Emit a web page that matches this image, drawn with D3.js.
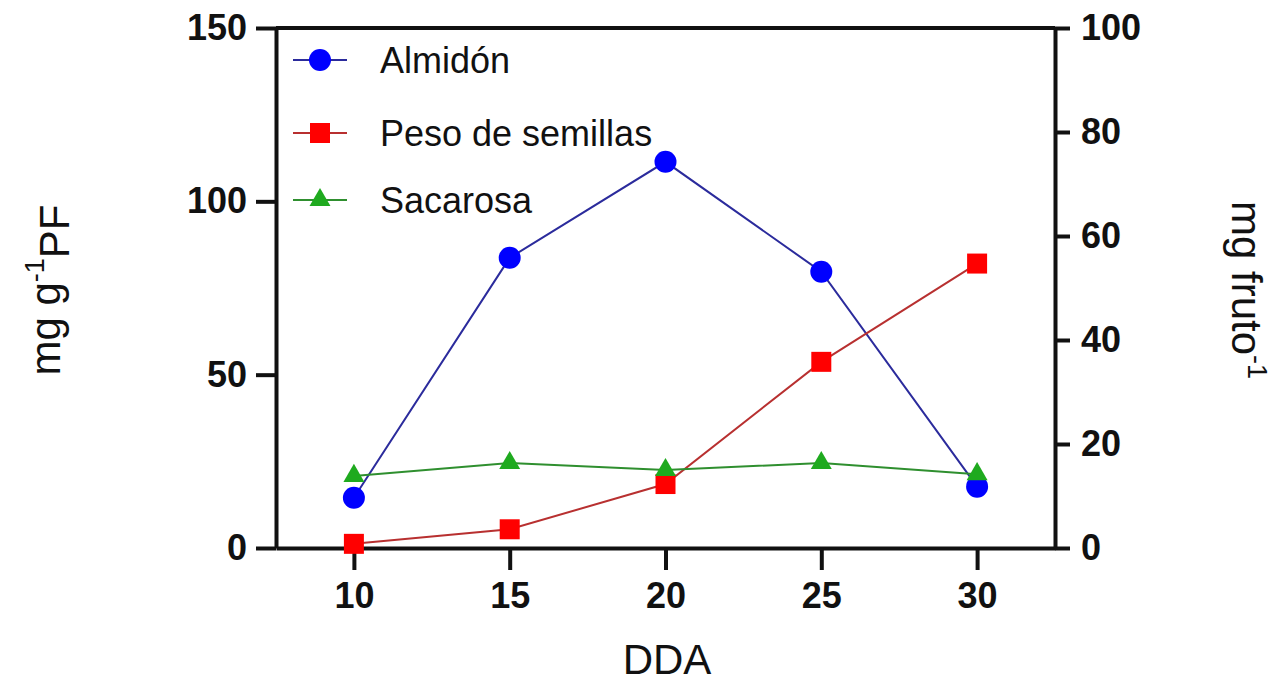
<!DOCTYPE html>
<html>
<head>
<meta charset="utf-8">
<script src="https://cdn.jsdelivr.net/npm/d3@7"></script>
<style>
  body { margin: 0; background: #fff; }
  text { font-family: Arial, "Liberation Sans", sans-serif; fill: #111; }
</style>
</head>
<body>
<script>
var dda = [10, 15, 20, 25, 30];
var almidon = [14.5, 83.7, 111.4, 79.7, 17.7];   // left axis
var peso = [0.8, 3.6, 12.3, 35.8, 54.7];         // right axis
var sacarosa = [20.8, 24.5, 22.5, 24.5, 21.3];   // left axis
var xTicks = [10, 15, 20, 25, 30];
var leftTicks = [0, 50, 100, 150];
var rightTicks = [0, 20, 40, 60, 80, 100];

var w = 1282, h = 683;
var svg = d3.select("body").append("svg").attr("width", w).attr("height", h);

var x = d3.scaleLinear().domain([7.5, 32.5]).range([276, 1055]);
var yL = d3.scaleLinear().domain([0, 150]).range([548, 28]);
var yR = d3.scaleLinear().domain([0, 100]).range([548, 28]);

function styleAxis(g) {
    g.selectAll("path, line").attr("stroke", "#111").attr("stroke-width", 4);
    g.selectAll("text").style("font-size", "36px").style("font-weight", "bold").attr("fill", "#111");
}

// top border
svg.append("line")
    .attr("x1", 276).attr("x2", 1055).attr("y1", 28).attr("y2", 28)
    .attr("stroke", "#111").attr("stroke-width", 4);

svg.append("g").attr("transform", "translate(0,548)")
    .call(d3.axisBottom(x).tickValues(xTicks).tickSize(22).tickPadding(12).tickSizeOuter(0))
    .call(styleAxis);

svg.append("g").attr("transform", "translate(276,0)")
    .call(d3.axisLeft(yL).tickValues(leftTicks).tickSize(20).tickPadding(9).tickSizeOuter(0))
    .call(styleAxis);

svg.append("g").attr("transform", "translate(1055,0)")
    .call(d3.axisRight(yR).tickValues(rightTicks).tickSize(15).tickPadding(11).tickSizeOuter(0))
    .call(styleAxis);

var series = [
    { name: "Almidón", values: almidon, y: yL, line: "#2b2b9c", fill: "#0000ff", shape: d3.symbolCircle, size: 380 },
    { name: "Peso de semillas", values: peso, y: yR, line: "#b83030", fill: "#ff0000", shape: d3.symbolSquare, size: 400 },
    { name: "Sacarosa", values: sacarosa, y: yL, line: "#2f8f2f", fill: "#1faa1f", shape: d3.symbolTriangle, size: 190 }
];

series.forEach(function(s) {
    var line = d3.line().x((d, i) => x(dda[i])).y(d => s.y(d));
    svg.append("path").datum(s.values)
        .attr("d", line).attr("fill", "none")
        .attr("stroke", s.line).attr("stroke-width", 2);
    svg.selectAll(null).data(s.values).enter().append("path")
        .attr("d", d3.symbol().type(s.shape).size(s.size)())
        .attr("transform", (d, i) => "translate(" + x(dda[i]) + "," + s.y(d) + ")")
        .attr("fill", s.fill);
});

// legend
var legY = [60, 133, 200];
series.forEach(function(s, i) {
    var g = svg.append("g").attr("transform", "translate(0," + legY[i] + ")");
    g.append("line").attr("x1", 293).attr("x2", 347)
        .attr("stroke", s.line).attr("stroke-width", 2);
    g.append("path").attr("d", d3.symbol().type(s.shape).size(s.size)())
        .attr("transform", "translate(320,0)").attr("fill", s.fill);
    g.append("text").attr("x", 380).attr("dy", "0.35em")
        .style("font-size", "36px").text(s.name);
});

// axis titles
svg.append("text").attr("x", 667).attr("y", 674)
    .attr("text-anchor", "middle").style("font-size", "42px").text("DDA");

var lt = svg.append("text").attr("transform", "translate(60,290) rotate(-90)")
    .attr("text-anchor", "middle").style("font-size", "42px");
lt.append("tspan").text("mg g");
lt.append("tspan").attr("dy", "-0.6em").style("font-size", "27px").text("-1");
lt.append("tspan").attr("dy", "0.6em").text("PF");

var rt = svg.append("text").attr("transform", "translate(1232,290) rotate(90)")
    .attr("text-anchor", "middle").style("font-size", "42px");
rt.append("tspan").text("mg fruto");
rt.append("tspan").attr("dy", "-0.6em").style("font-size", "27px").text("-1");
</script>
</body>
</html>
